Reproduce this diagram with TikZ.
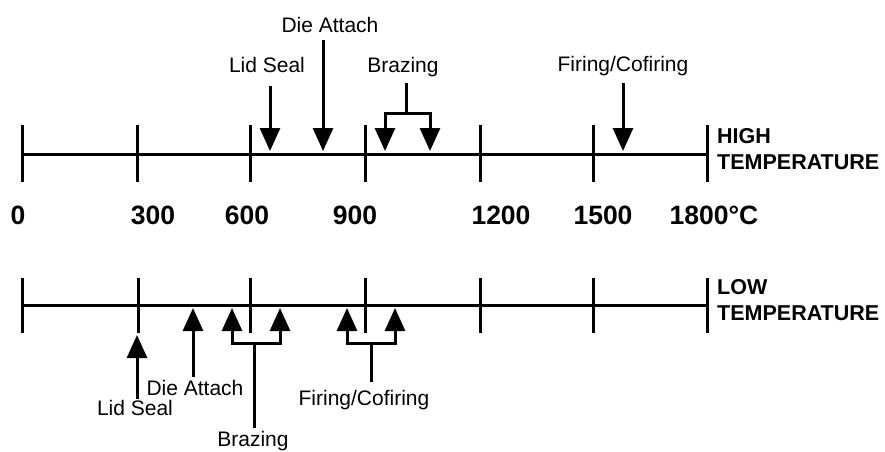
\documentclass[tikz,border=0pt]{standalone}
\usepackage{fontspec}
\setmainfont{Liberation Sans}
\usetikzlibrary{arrows.meta}
\begin{document}
\begin{tikzpicture}[x=1pt,y=-1pt,
  axisline/.style={line width=3pt},
  tickmark/.style={line width=3pt},
  head/.tip={Triangle[width=20pt,length=23pt]},
  arr/.style={line width=3pt,-head},
  arrboth/.style={line width=3pt,head-head},
  lnk/.style={line width=3pt},
  lbl/.style={inner sep=0pt,font=\fontsize{21}{24}\selectfont,anchor=base},
  num/.style={inner sep=0pt,font=\bfseries\fontsize{26.5}{30}\selectfont,anchor=base},
  side/.style={inner sep=0pt,font=\bfseries\fontsize{21.5}{26.5}\selectfont,align=left,anchor=north west}]
\useasboundingbox (0,0) rectangle (885,451);
% ---------- high temperature axis ----------
\coordinate (h0) at (22,154);
\coordinate (h1) at (707,154);
\draw[axisline] (h0) -- (h1);
\foreach \x in {22,137,250,365,480,593,707} \draw[tickmark] (\x,125) -- (\x,182);
\node[side] (high) at (717,128) {HIGH\\TEMPERATURE};
% labels
\node[lbl] (hlid) at (267,72) {Lid Seal};
\node[lbl] (hdie) at (330,32) {Die Attach};
\node[lbl] (hbraz) at (403,72) {Brazing};
\node[lbl] (hfire) at (623,71) {Firing/Cofiring};
% arrows
\coordinate (hlidA) at (270,86);  \coordinate (hlidB) at (270,151);
\coordinate (hdieA) at (323,40);  \coordinate (hdieB) at (323,151);
\coordinate (hfireA) at (623,83); \coordinate (hfireB) at (623,151);
\draw[arr] (hlidA) -- (hlidB);
\draw[arr] (hdieA) -- (hdieB);
\draw[arr] (hfireA) -- (hfireB);
\coordinate (hbS) at (406,83); \coordinate (hbM) at (406,113);
\coordinate (hbL) at (385,113); \coordinate (hbR) at (430,113);
\coordinate (hbLt) at (385,151); \coordinate (hbRt) at (430,151);
\draw[lnk] (hbS) -- (hbM);
\draw[arrboth,line join=miter] (hbLt) -- (hbL) -- (hbR) -- (hbRt);
% ---------- numbers ----------
\node[num] (n0) at (18,224) {0};
\node[num] (n300) at (153,224) {300};
\node[num] (n600) at (247,224) {600};
\node[num] (n900) at (355,224) {900};
\node[num] (n1200) at (501,224) {1200};
\node[num] (n1500) at (603,224) {1500};
\node[num] (n1800) at (714,224) {1800°C};
% ---------- low temperature axis ----------
\coordinate (l0) at (22,305);
\coordinate (l1) at (707,305);
\draw[axisline] (l0) -- (l1);
\foreach \x in {22,138,250,365,480,593,707} \draw[tickmark] (\x,278) -- (\x,333);
\node[side] (low) at (717,279) {LOW\\TEMPERATURE};
% labels
\node[lbl] (llid) at (135,415) {Lid Seal};
\node[lbl] (ldie) at (195,395) {Die Attach};
\node[lbl] (lbraz) at (253,446) {Brazing};
\node[lbl] (lfire) at (364,405) {Firing/Cofiring};
% arrows
\coordinate (llidA) at (137,399); \coordinate (llidB) at (137,335);
\coordinate (ldieA) at (193,377); \coordinate (ldieB) at (193,308);
\draw[arr] (llidA) -- (llidB);
\draw[arr] (ldieA) -- (ldieB);
\coordinate (lbS) at (254,428); \coordinate (lbM) at (254,343);
\coordinate (lbL) at (232,343); \coordinate (lbR) at (280,343);
\coordinate (lbLt) at (232,308); \coordinate (lbRt) at (280,308);
\draw[lnk] (lbS) -- (lbM);
\draw[arrboth,line join=miter] (lbLt) -- (lbL) -- (lbR) -- (lbRt);
\coordinate (lfS) at (371,382); \coordinate (lfM) at (371,343);
\coordinate (lfL) at (347,343); \coordinate (lfR) at (395,343);
\coordinate (lfLt) at (347,308); \coordinate (lfRt) at (395,308);
\draw[lnk] (lfS) -- (lfM);
\draw[arrboth,line join=miter] (lfLt) -- (lfL) -- (lfR) -- (lfRt);
\end{tikzpicture}
\end{document}
